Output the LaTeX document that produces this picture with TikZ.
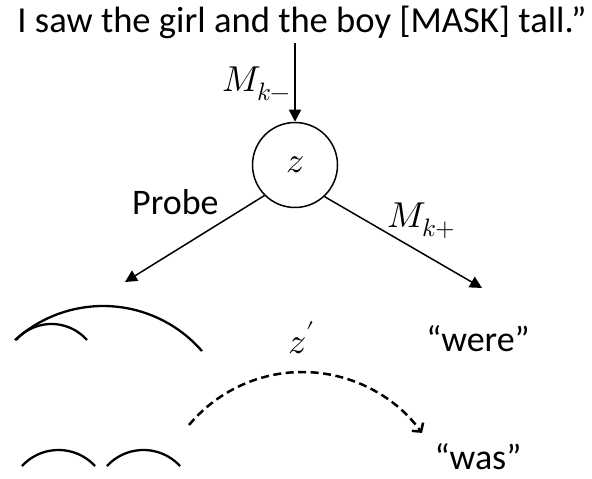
\documentclass[tikz,border=0pt]{standalone}
\usepackage{fontspec}
\usepackage{unicode-math}
\setmainfont{Carlito}
\setmathfont{Latin Modern Math}
\usetikzlibrary{arrows.meta}
\begin{document}
\begin{tikzpicture}[x=1pt,y=1pt,
  font=\fontsize{36}{43}\selectfont,
  txt/.style={inner sep=0pt},
  conn/.style={line width=1.5pt,-{Triangle[length=12pt,width=12pt]}},
  arcline/.style={line width=2.3pt},
  dasharc/.style={line width=2.5pt,dash pattern=on 8pt off 4.5pt,
    -{Straight Barb[length=6pt,width=14pt,line width=2.5pt]}}]
\useasboundingbox (0,0) rectangle (592,479);
% texts
\node[txt,anchor=base,font=\fontsize{36.6}{43}\selectfont] (title) at (302,446) {I saw the girl and the boy [MASK] tall.”};
\node[draw,circle,line width=1.5pt,minimum size=85pt,inner sep=0pt] (z) at (295,314) {$z$};
\node[txt,anchor=base west] (mkminus) at (222,387) {$M_{k-}$};
\node[txt,anchor=base west] (probe) at (132,264) {Probe};
\node[txt,anchor=base west] (mkplus) at (387,251) {$M_{k+}$};
\node[txt,anchor=base] (zprime) at (302,125) {$z'$};
\node[txt,anchor=base] (were) at (478,127) {“were”};
\node[txt,anchor=base] (was) at (478,9) {“was”};
% connectors
\coordinate (top) at (295,436);
\coordinate (ltip) at (125,197);
\coordinate (rtip) at (482,191);
\draw[conn] (top) -- (z.north);
\draw[conn] (z.225) -- (ltip);
\draw[conn] (z.-47) -- (rtip);
% arcs (trees)
\coordinate (bigc) at (103.1,42);
\coordinate (smallc) at (51.5,107.6);
\coordinate (b1c) at (58.5,-20.6);
\coordinate (b2c) at (143.5,-20.6);
\coordinate (dc) at (302.4,-40.8);
\draw[arcline] ([shift={(132.3:131)}]bigc) arc[start angle=132.3,end angle=41,radius=131];
\draw[arcline] ([shift={(138.5:47.4)}]smallc) arc[start angle=138.5,end angle=41.5,radius=47.4];
\draw[arcline] ([shift={(137.4:49.6)}]b1c) arc[start angle=137.4,end angle=42.6,radius=49.6];
\draw[arcline] ([shift={(137.4:49.6)}]b2c) arc[start angle=137.4,end angle=42.6,radius=49.6];
\draw[dasharc] ([shift={(140.1:147.8)}]dc) arc[start angle=140.1,end angle=36,radius=147.8];
\end{tikzpicture}
\end{document}
